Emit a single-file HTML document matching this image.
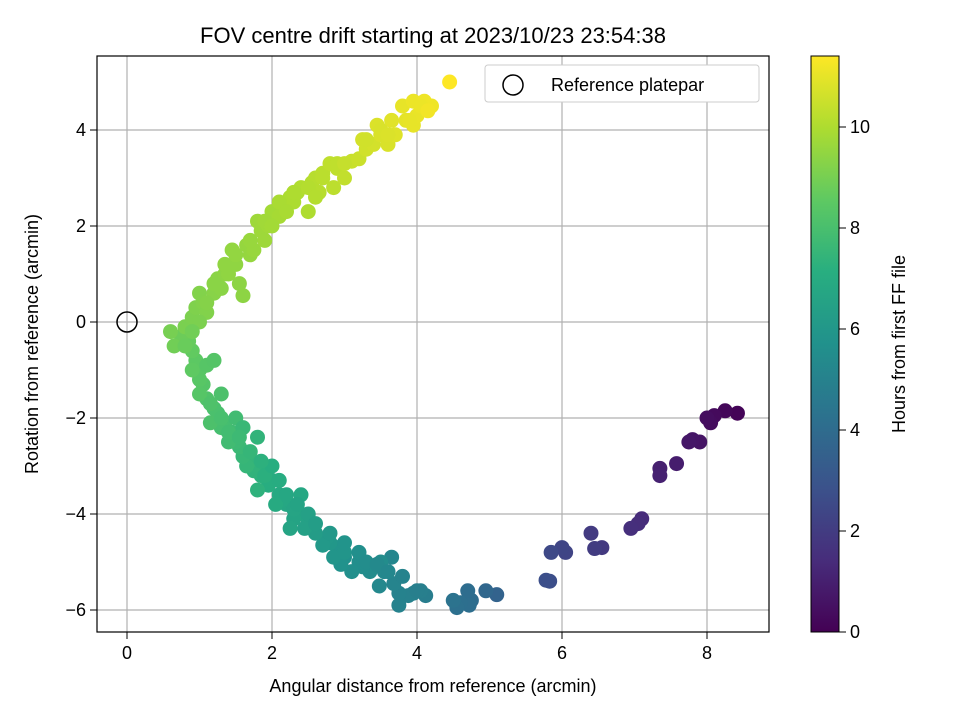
<!DOCTYPE html>
<html><head><meta charset="utf-8"><style>
body{margin:0;background:#fff;}
svg{display:block;font-family:"Liberation Sans","DejaVu Sans",sans-serif;}
</style></head><body>
<svg id="chart" width="960" height="720" viewBox="0 0 960 720">
<rect width="960" height="720" fill="#fff"/>
<text x="433" y="43" text-anchor="middle" font-size="22" fill="#000">FOV centre drift starting at 2023/10/23 23:54:38</text>
<g id="grid"></g>
<g id="points"></g>
<rect x="97" y="56" width="672" height="576" fill="none" stroke="#000" stroke-width="1.2"/>
<g id="xticks"></g><g id="yticks"></g>
<text x="433" y="692" text-anchor="middle" font-size="18">Angular distance from reference (arcmin)</text>
<text transform="translate(38,344) rotate(-90)" text-anchor="middle" font-size="18">Rotation from reference (arcmin)</text>
<g>
<rect x="485" y="65" width="274" height="37" rx="3" fill="#fff" stroke="#ccc"/>
<circle cx="513" cy="85" r="10" fill="none" stroke="#000" stroke-width="1.5"/>
<text x="551" y="91" font-size="18">Reference platepar</text>
</g>
<defs><linearGradient id="vir" x1="0" y1="1" x2="0" y2="0">
<stop offset="0" stop-color="#440154"/><stop offset="0.125" stop-color="#472d7b"/><stop offset="0.25" stop-color="#3b528b"/><stop offset="0.375" stop-color="#2c728e"/><stop offset="0.5" stop-color="#21918c"/><stop offset="0.625" stop-color="#28ae80"/><stop offset="0.75" stop-color="#5ec962"/><stop offset="0.875" stop-color="#addc30"/><stop offset="1" stop-color="#fde725"/></linearGradient></defs>
<rect x="811" y="56" width="28" height="576" fill="url(#vir)" stroke="#000" stroke-width="1"/>
<g id="cticks"></g>
<text transform="translate(905,344) rotate(-90)" text-anchor="middle" font-size="18">Hours from first FF file</text>
</svg>
<script>
const xTicks=[0,2,4,6,8];
const yTicks=[-6,-4,-2,0,2,4];
const cTicks=[0,2,4,6,8,10];
const xs=[8.42,8.25,8.1,8.05,8.0,7.9,7.8,7.75,7.58,7.35,7.35,7.1,7.05,6.95,6.55,6.45,6.4,6.05,6.0,5.85,5.83,5.78,5.1,4.95,4.75,4.7,4.72,4.6,4.55,4.5,4.12,4.05,3.95,3.88,3.75,3.75,3.68,3.65,3.55,3.48,3.4,3.35,3.25,3.2,3.1,3.0,2.95,2.9,2.85,2.8,2.75,2.7,2.6,2.5,2.45,2.4,2.3,2.25,2.2,2.15,2.1,2.05,2.0,1.95,1.9,1.85,1.8,1.75,1.7,1.65,1.6,1.55,1.5,1.45,1.4,1.35,1.3,1.25,1.2,1.15,1.1,1.05,1.0,0.95,0.9,0.85,0.75,0.65,0.6,0.8,0.9,0.95,1.0,1.05,1.1,1.2,1.25,1.3,1.35,1.4,1.45,1.5,1.55,1.6,1.65,1.7,1.75,1.8,1.85,1.9,1.95,2.0,2.1,2.2,2.25,2.3,2.35,2.4,2.5,2.55,2.6,2.65,2.7,2.8,2.85,2.9,3.0,3.1,3.2,3.25,3.3,3.4,3.45,3.5,3.6,3.65,3.7,3.8,3.85,3.95,3.95,4.0,4.1,4.2,4.45,1.0,1.1,1.2,1.3,1.5,1.6,1.8,2.1,2.4,3.0,3.5,1.0,0.9,
1.1,1.2,1.35,1.5,1.7,1.9,2.1,2.3,2.5,2.7,2.9,3.3,3.5,3.6,3.9,4.05,4.15,1.4,2.0,2.2,2.6,3.0,
0.8,0.9,1.0,1.15,1.3,1.4,1.55,1.7,1.9,2.0,2.2,2.3,2.5,2.6,2.8,3.0,3.2,3.3,3.45,3.6,3.8,4.0,1.85,2.35];
const ys=[-1.9,-1.85,-1.95,-2.1,-2.0,-2.5,-2.45,-2.5,-2.95,-3.05,-3.2,-4.1,-4.2,-4.3,-4.7,-4.72,-4.4,-4.8,-4.7,-4.8,-5.4,-5.38,-5.68,-5.6,-5.8,-5.6,-5.9,-5.85,-5.95,-5.8,-5.7,-5.6,-5.65,-5.7,-5.9,-5.65,-5.45,-4.9,-5.2,-5.5,-5.1,-5.2,-5.1,-5.0,-5.2,-4.9,-5.05,-4.7,-4.9,-4.6,-4.5,-4.65,-4.4,-4.2,-4.3,-4.0,-4.1,-4.3,-3.8,-3.7,-3.6,-3.8,-3.3,-3.4,-3.0,-3.2,-3.5,-3.1,-2.9,-3.0,-2.8,-2.6,-2.5,-2.3,-2.5,-2.1,-2.2,-1.9,-1.8,-2.1,-1.6,-1.3,-1.0,-0.8,-0.6,-0.4,-0.3,-0.5,-0.2,-0.1,0.1,0.3,0.6,0.4,0.2,0.6,0.9,0.7,1.0,1.1,1.5,1.2,0.8,0.55,1.6,1.4,1.5,2.1,1.9,1.7,2.0,2.3,2.2,2.4,2.6,2.5,2.7,2.8,2.3,2.9,3.0,2.7,3.1,3.3,2.8,3.2,3.0,3.35,3.4,3.8,3.6,3.7,4.1,3.9,3.7,4.2,3.9,4.5,4.2,4.1,4.6,4.3,4.6,4.5,5.0,-1.2,-0.9,-0.8,-1.5,-2.0,-2.2,-2.4,-3.3,-3.6,-4.8,-5.0,0.0,-0.2,
0.4,0.8,1.2,1.4,1.7,2.1,2.5,2.7,2.8,3.0,3.3,3.8,4.0,3.9,4.2,4.5,4.4,1.0,2.0,2.3,2.6,3.3,
-0.5,-1.0,-1.5,-1.7,-2.0,-2.3,-2.4,-2.7,-3.2,-3.0,-3.6,-3.9,-4.0,-4.2,-4.4,-4.6,-4.8,-5.0,-5.05,-5.2,-5.3,-5.6,-2.9,-3.8];
const hs=[0.1,0.2,0.3,0.35,0.4,0.6,0.65,0.7,0.9,1.0,1.05,1.4,1.45,1.5,1.9,2.0,1.95,2.3,2.35,2.5,2.7,2.75,3.6,3.8,4.0,4.05,4.1,4.15,4.2,4.3,
4.8,4.85,4.9,4.95,5.0,5.0,5.1,5.2,5.3,5.3,5.4,5.45,5.5,5.55,5.6,5.7,5.75,5.85,5.9,6.0,6.05,6.1,6.25,6.4,6.45,6.55,6.6,6.65,6.75,6.8,6.9,6.95,7.05,7.1,7.2,7.25,7.3,7.35,7.45,7.5,7.55,7.65,7.7,7.75,7.8,7.9,7.95,8.0,8.05,8.1,8.2,8.3,8.4,8.5,8.6,8.7,8.8,8.9,9.0,
9.05,9.1,9.15,9.2,9.2,9.2,9.3,9.35,9.35,9.4,9.45,9.5,9.45,9.4,9.4,9.55,9.55,9.6,9.7,9.7,9.7,9.75,9.8,9.85,9.9,9.95,9.95,10.0,10.05,10.0,10.1,10.15,10.15,10.2,10.3,10.25,10.3,10.35,10.45,10.5,10.65,10.6,10.65,10.8,10.75,10.75,10.9,10.85,11.0,10.95,11.0,11.1,11.05,11.15,11.15,11.4,
8.4,8.35,8.3,8.1,7.8,7.6,7.4,7.05,6.8,5.9,5.5,9.1,8.9,
9.25,9.35,9.45,9.5,9.6,9.75,9.9,10.0,10.1,10.2,10.3,10.6,10.75,10.8,11.0,11.1,11.2,9.45,9.8,9.9,10.1,10.4,
8.75,8.55,8.35,8.15,8.0,7.85,7.7,7.5,7.2,7.1,6.8,6.65,6.45,6.3,6.05,5.85,5.6,5.5,5.35,5.25,5.05,4.85,7.25,6.6];
const x0=127,xs1=72.5,y0=322,ys1=48,cb0=632,cbs=50.5;
const X=v=>x0+v*xs1, Y=v=>y0-v*ys1, C=v=>cb0-v*cbs;
const NS='http://www.w3.org/2000/svg';
const vir=[[68,1,84],[71,45,123],[59,82,139],[44,114,142],[33,145,140],[40,174,128],[94,201,98],[173,220,48],[253,231,37]];
const HMAX=11.4;
function col(h){let t=Math.max(0,Math.min(1,h/HMAX))*8;let i=Math.min(7,Math.floor(t)),f=t-i;const a=vir[i],b=vir[i+1];return `rgb(${a.map((c,k)=>Math.round(c+(b[k]-c)*f)).join(',')})`;}
function mk(tag,attrs,parent){const e=document.createElementNS(NS,tag);for(const k in attrs)e.setAttribute(k,attrs[k]);parent.appendChild(e);return e;}
const grid=document.getElementById('grid'),xt=document.getElementById('xticks'),yt=document.getElementById('yticks'),ct=document.getElementById('cticks'),pts=document.getElementById('points');
xTicks.forEach(v=>{
 const l=mk('line',{x1:X(v),x2:X(v),y1:56,y2:632,stroke:'#b0b0b0','stroke-width':1.2},grid);
 
 
 mk('line',{x1:X(v),x2:X(v),y1:632,y2:639,stroke:'#000'},xt);
 const t=mk('text',{x:X(v),y:659,'text-anchor':'middle','font-size':18},xt);t.textContent=v;
 
 
});
yTicks.forEach(v=>{
 const l=mk('line',{x1:97,x2:769,y1:Y(v),y2:Y(v),stroke:'#b0b0b0','stroke-width':1.2},grid);
 
 
 mk('line',{x1:90,x2:97,y1:Y(v),y2:Y(v),stroke:'#000'},yt);
 const t=mk('text',{x:86,y:Y(v)+6,'text-anchor':'end','font-size':18},yt);t.textContent=v<0?'\u2212'+(-v):v;
 
 
});
cTicks.forEach(v=>{
 mk('line',{x1:839,x2:846,y1:C(v),y2:C(v),stroke:'#000'},ct);
 const t=mk('text',{x:850,y:C(v)+6,'font-size':18},ct);t.textContent=v;
 
 
});
hs.forEach((h,i)=>{
 const c=mk('circle',{cx:X(xs[i]),cy:Y(ys[i]),r:7.5,fill:col(h)},pts);
 
 
});
const ref=mk('circle',{cx:X(0),cy:Y(0),r:10,fill:'none',stroke:'#000','stroke-width':1.5},pts);


</script>
</body></html>
